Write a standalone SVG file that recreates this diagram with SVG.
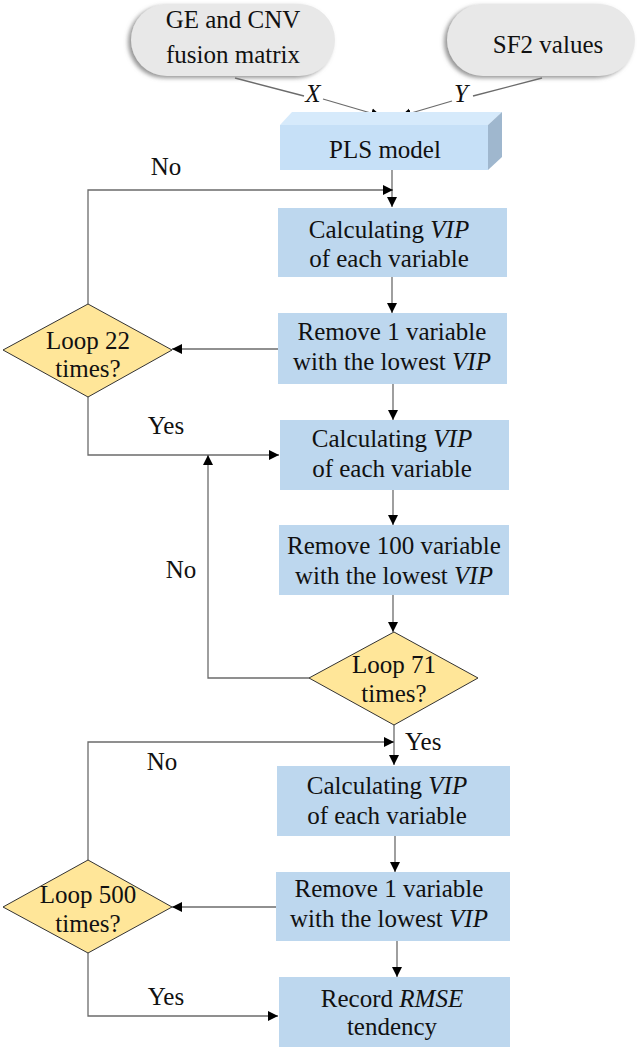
<svg xmlns="http://www.w3.org/2000/svg" width="640" height="1051" viewBox="0 0 640 1051" font-family="'Liberation Serif', Tinos, 'DejaVu Serif', serif">
<style>
text{font-family:'Liberation Serif',Tinos,'DejaVu Serif',serif;font-size:25px;fill:#111;text-anchor:middle}
.i{font-style:italic}
.box{fill:#BDD7EE}
.dia{fill:#FFE699;stroke:#333;stroke-width:1}
.pill{fill:#E8E8E8;filter:url(#sh)}
.c{fill:none;stroke:#6b6b6b;stroke-width:1.3}
.l{text-anchor:start}
</style>
<defs>
<marker id="a" viewBox="0 0 10 10" markerWidth="10" markerHeight="11" refX="10" refY="5" orient="auto" markerUnits="userSpaceOnUse">
<path d="M0,0 L10,5 L0,10 z" fill="#000"/>
</marker>
<filter id="sh" x="-10%" y="-20%" width="120%" height="150%">
<feDropShadow dx="-3" dy="2" stdDeviation="2" flood-color="#7a7a7a" flood-opacity="0.8"/>
</filter>
</defs>

<g id="connectors">
<path class="c" d="M235,78 L304,96"/>
<path class="c" d="M323,99 L381,116" marker-end="url(#a)"/>
<path class="c" d="M542,78 L473,96"/>
<path class="c" d="M452,101 L401,116" marker-end="url(#a)"/>
<path class="c" d="M392,170 V207" marker-end="url(#a)"/>
<path class="c" d="M88,304 V190 H393" marker-end="url(#a)"/>
<path class="c" d="M392,277 V313" marker-end="url(#a)"/>
<path class="c" d="M278,349 H172" marker-end="url(#a)"/>
<path class="c" d="M393,384 V420" marker-end="url(#a)"/>
<path class="c" d="M88,397 V455 H279" marker-end="url(#a)"/>
<path class="c" d="M309,678 H208 V455" marker-end="url(#a)"/>
<path class="c" d="M393,490 V525" marker-end="url(#a)"/>
<path class="c" d="M393,595 V632" marker-end="url(#a)"/>
<path class="c" d="M394,725 V765" marker-end="url(#a)"/>
<path class="c" d="M88,860 V742 H394" marker-end="url(#a)"/>
<path class="c" d="M395,836 V872" marker-end="url(#a)"/>
<path class="c" d="M276,907 H172" marker-end="url(#a)"/>
<path class="c" d="M397,941 V977" marker-end="url(#a)"/>
<path class="c" d="M88,953 V1016 H278" marker-end="url(#a)"/>
</g>

<g id="labels">
<text class="i" x="313" y="102">X</text>
<text class="i" x="461" y="102">Y</text>
<text x="166" y="175">No</text>
<text x="166" y="434">Yes</text>
<text x="181" y="578">No</text>
<text class="l" x="405" y="750">Yes</text>
<text x="162" y="770">No</text>
<text x="166" y="1005">Yes</text>
</g>

<g id="ge-cnv">
<rect class="pill" x="131" y="4" width="204" height="72" rx="36"/>
<text x="233" y="28">GE and CNV</text>
<text x="233" y="63">fusion matrix</text>
</g>

<g id="sf2">
<rect class="pill" x="447" y="4" width="188" height="72" rx="36"/>
<text x="548" y="53">SF2 values</text>
</g>

<g id="pls">
<polygon points="280,125 292,112 502,112 488,125" fill="#D6EAFB"/>
<polygon points="488,125 502,112 502,157 488,170" fill="#9FB7CE"/>
<rect x="280" y="125" width="208" height="45" fill="#C6E0F7"/>
<text x="385" y="158">PLS model</text>
</g>

<g id="calc1">
<rect class="box" x="278" y="208" width="229" height="69"/>
<text x="389" y="238">Calculating <tspan class="i">VIP</tspan></text>
<text x="389" y="267">of each variable</text>
</g>

<g id="remove1">
<rect class="box" x="278" y="313" width="229" height="71"/>
<text x="392" y="340">Remove 1 variable</text>
<text x="392" y="370">with the lowest <tspan class="i">VIP</tspan></text>
</g>

<g id="loop22">
<polygon class="dia" points="88,304 172,350 88,397 3,350"/>
<text x="88" y="349">Loop 22</text>
<text x="88" y="377">times?</text>
</g>

<g id="calc2">
<rect class="box" x="280" y="420" width="229" height="70"/>
<text x="392" y="447">Calculating <tspan class="i">VIP</tspan></text>
<text x="392" y="477">of each variable</text>
</g>

<g id="remove100">
<rect class="box" x="279" y="525" width="230" height="70"/>
<text x="394" y="554">Remove 100 variable</text>
<text x="394" y="584">with the lowest <tspan class="i">VIP</tspan></text>
</g>

<g id="loop71">
<polygon class="dia" points="394,632 478,678 394,725 309,678"/>
<text x="394" y="673">Loop 71</text>
<text x="394" y="702">times?</text>
</g>

<g id="calc3">
<rect class="box" x="277" y="766" width="233" height="70"/>
<text x="387" y="794">Calculating <tspan class="i">VIP</tspan></text>
<text x="387" y="824">of each variable</text>
</g>

<g id="remove3">
<rect class="box" x="276" y="872" width="234" height="69"/>
<text x="389" y="897">Remove 1 variable</text>
<text x="389" y="927">with the lowest <tspan class="i">VIP</tspan></text>
</g>

<g id="loop500">
<polygon class="dia" points="88,860 172,907 88,953 3,907"/>
<text x="88" y="903">Loop 500</text>
<text x="88" y="932">times?</text>
</g>

<g id="record">
<rect class="box" x="279" y="977" width="231" height="70"/>
<text x="392" y="1007">Record <tspan class="i">RMSE</tspan></text>
<text x="392" y="1035">tendency</text>
</g>
</svg>
